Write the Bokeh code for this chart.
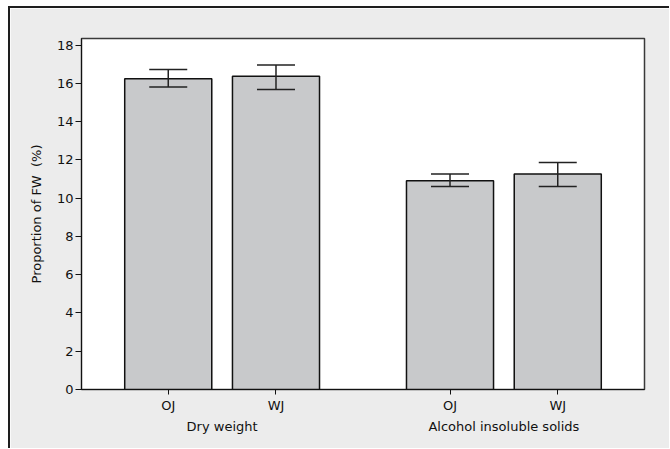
from bokeh.plotting import figure
from bokeh.models import FactorRange, Range1d, ColumnDataSource, Whisker, TeeHead, FixedTicker
from bokeh.embed import file_html
from bokeh.resources import INLINE

groups = ["Dry weight", "Alcohol insoluble solids"]
juices = ["OJ", "WJ"]
means = [16.25, 16.37, 10.91, 11.27]
err_upper = [16.73, 16.97, 11.27, 11.87]
err_lower = [15.81, 15.69, 10.61, 10.61]
y_ticks = [0, 2, 4, 6, 8, 10, 12, 14, 16, 18]
y_label = "Proportion of FW\u00a0\u00a0(%)"

factors = [(g, j) for g in groups for j in juices]
src = ColumnDataSource(dict(x=factors, top=means, upper=err_upper, lower=err_lower))

FONT = "DejaVu Sans"

p = figure(
    x_range=FactorRange(*factors, group_padding=0.615, factor_padding=0.0, range_padding=0.1322),
    y_range=Range1d(0, 18.35),
    frame_width=563, frame_height=351,
    min_border_left=71, min_border_right=25, min_border_top=30, min_border_bottom=59,
    output_backend="svg", toolbar_location=None,
)
p.styles = {"margin-left": "8px", "margin-top": "6px",
            "border-top": "2px solid #1e1e1e", "border-left": "2px solid #1e1e1e"}

p.vbar(x="x", top="top", width=0.808, source=src,
       fill_color="#c8c9cb", line_color="#111111", line_width=1.5)

w = Whisker(source=src, base="x", upper="upper", lower="lower", level="overlay",
            line_color="#222222", line_width=1.5,
            upper_head=TeeHead(size=38, line_color="#222222", line_width=1.5),
            lower_head=TeeHead(size=38, line_color="#222222", line_width=1.5))
p.add_layout(w)

p.background_fill_color = "white"
p.border_fill_color = "#ececec"
p.outline_line_color = "#3a3a3a"
p.outline_line_width = 1.5
p.xgrid.grid_line_color = None
p.ygrid.grid_line_color = None

p.yaxis.ticker = FixedTicker(ticks=y_ticks)
p.yaxis.axis_label = y_label
p.yaxis.minor_tick_line_color = None
p.yaxis.major_tick_in = 0
p.yaxis.major_tick_out = 6
p.yaxis.major_label_standoff = 2
p.yaxis.axis_label_standoff = 10

for ax in (p.xaxis[0], p.yaxis[0]):
    ax.axis_line_color = "#111111"
    ax.major_tick_line_color = "#111111"
    ax.major_label_text_font = FONT
    ax.major_label_text_font_size = "13px"
    ax.major_label_text_color = "#111111"
    ax.axis_label_text_font = FONT
    ax.axis_label_text_font_size = "13px"
    ax.axis_label_text_font_style = "normal"
    ax.axis_label_text_color = "#111111"

p.xaxis.major_tick_in = 0
p.xaxis.major_tick_out = 5
p.xaxis.major_label_standoff = 3
p.xaxis.separator_line_color = None
p.xaxis.group_text_font = FONT
p.xaxis.group_text_font_size = "13px"
p.xaxis.group_text_font_style = "normal"
p.xaxis.group_text_color = "#111111"

open("out.html", "w").write(file_html(p, INLINE))
